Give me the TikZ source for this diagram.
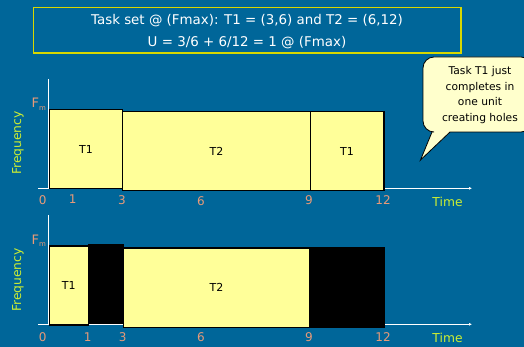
\documentclass[tikz,border=0pt]{standalone}
\usepackage{fontspec}
\setmainfont{DejaVu Sans}
\usetikzlibrary{arrows.meta}
\definecolor{bg}{HTML}{006699}
\definecolor{ybox}{HTML}{FFFF99}
\definecolor{tick}{HTML}{E89A78}
\definecolor{axlab}{HTML}{CCEE33}
\definecolor{titleedge}{RGB}{215,215,0}
\definecolor{callfill}{HTML}{FFFFCC}
\tikzset{
  taskbox/.style={draw=black, line width=1.2pt, fill=ybox, inner sep=0pt, anchor=north west, font=\fontsize{11}{13}\selectfont},
  idlebox/.style={draw=black, line width=1.2pt, fill=black, inner sep=0pt, anchor=north west},
  ticklab/.style={text=tick, font=\fontsize{12}{13}\selectfont, inner sep=0pt},
  axislab/.style={text=axlab, font=\fontsize{12.3}{14}\selectfont, inner sep=0pt},
  axisline/.style={draw=white, line width=0.8pt},
}
\newcommand{\tbox}[7]{%
  \pgfmathsetmacro{\bw}{#4-#2}\pgfmathsetmacro{\bh}{#5-#3}%
  \node[#7, minimum width=\bw pt, minimum height=\bh pt] (#1) at (#2,#3) {#6};}
\begin{document}
\begin{tikzpicture}[x=1pt,y=-1pt]
\useasboundingbox (0,0) rectangle (524,347);
\clip (0,0) rectangle (524,347);
\fill[bg] (0,0) rectangle (524,347);
% title
\node[minimum width=427pt, minimum height=45pt, inner sep=0pt, anchor=north west] (title) at (33.5,7.5) {};
\draw[titleedge, line width=1.8pt] (title.north west) -- (title.north east) -- (title.south east) -- (title.south west) -- cycle;
\node[text=white, font=\fontsize{13.4}{15}\selectfont, inner sep=0pt] (t1) at (247,21) {Task set @ (Fmax): T1 = (3,6) and T2 = (6,12)};
\node[text=white, font=\fontsize{13.4}{15}\selectfont, inner sep=0pt] (t2) at (247,43) {U = 3/6 + 6/12 = 1 @ (Fmax)};
% callout
\draw[fill=callfill, draw=black, line width=0.8pt] (450,132) [rounded corners=11pt] -- (532,132) -- (532,57) -- (423,57) -- (423,132) [sharp corners] -- (432,132) -- (420.5,160) -- cycle;
\node[align=center, font=\fontsize{10.7}{15.8}\selectfont, text=black, inner sep=0pt] (call) at (480,95) {Task T1 just\\completes in\\one unit\\creating holes};
% ---- top chart
\coordinate (va1) at (48.5,79);
\coordinate (o1) at (48.5,188.3);
\coordinate (hs1) at (38,188.3);
\coordinate (he1) at (472,188.3);
\draw[axisline] (va1) -- (o1);
\draw[axisline, -{Latex[length=3pt,width=3pt]}] (hs1) -- (he1);
\tbox{a1}{48.7}{109.3}{122}{188.3}{T1}{taskbox}
\tbox{a2}{122}{111.3}{309.7}{190}{T2}{taskbox}
\tbox{a3}{309.7}{111.3}{383.3}{190}{T1}{taskbox}
\node[ticklab] (x0a) at (42.7,200) {0};
\node[ticklab] (x1a) at (72.7,199) {1};
\node[ticklab] (x3a) at (122,200) {3};
\node[ticklab] (x6a) at (201,201) {6};
\node[ticklab] (x9a) at (309,200) {9};
\node[ticklab] (x12a) at (383,200) {12};
\node[axislab] (timea) at (447.5,201.5) {Time};
\node[ticklab, anchor=base west] (fa) at (31.5,108) {\fontsize{13}{14}\selectfont F\raisebox{-2.5pt}{\fontsize{7}{8}\selectfont m}};
\node[axislab, rotate=90] (freqa) at (18,143) {Frequency};
% ---- bottom chart
\coordinate (va2) at (48.5,215);
\coordinate (o2) at (48.5,324.3);
\coordinate (hs2) at (38,324.3);
\coordinate (he2) at (472,324.3);
\draw[axisline] (va2) -- (o2);
\draw[axisline, -{Latex[length=3pt,width=3pt]}] (hs2) -- (he2);
\tbox{b1}{48.7}{245.3}{87.7}{324.3}{T1}{taskbox}
\tbox{b2}{87.7}{244}{122.7}{323}{}{idlebox}
\tbox{b3}{122.7}{247.3}{309}{326.7}{T2}{taskbox}
\tbox{b4}{309}{247.3}{384}{326.7}{}{idlebox}
\node[ticklab] (x0b) at (42.7,337) {0};
\node[ticklab] (x1b) at (87.7,337) {1};
\node[ticklab] (x3b) at (122.7,337) {3};
\node[ticklab] (x6b) at (201,337) {6};
\node[ticklab] (x9b) at (309,337) {9};
\node[ticklab] (x12b) at (383,337) {12};
\node[axislab] (timeb) at (447.5,337.5) {Time};
\node[ticklab, anchor=base west] (fb) at (31.5,244) {\fontsize{13}{14}\selectfont F\raisebox{-2.5pt}{\fontsize{7}{8}\selectfont m}};
\node[axislab, rotate=90] (freqb) at (18,280) {Frequency};
\end{tikzpicture}
\end{document}
